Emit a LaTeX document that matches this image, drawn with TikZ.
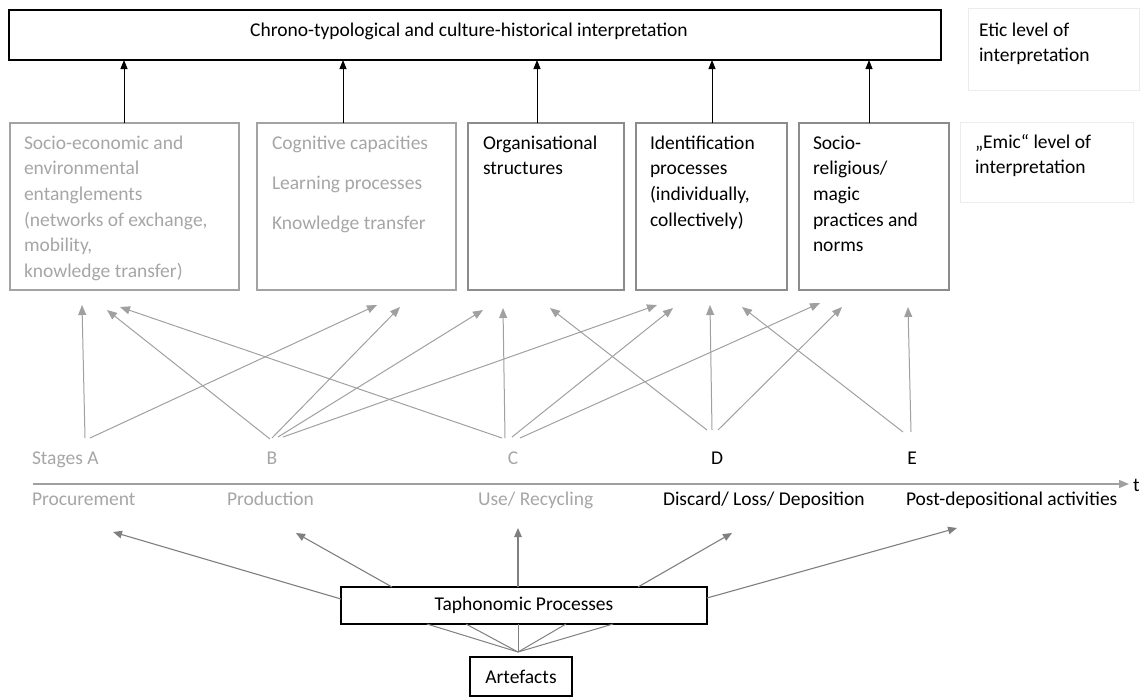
\documentclass[tikz,border=0pt]{standalone}
\usepackage{fontspec}
\setmainfont{Carlito}
\usetikzlibrary{arrows.meta}
\definecolor{txtgray}{HTML}{A6A6A6}
\definecolor{boxgray}{HTML}{A3A3A3}
\definecolor{boxgrayd}{HTML}{8C8C8C}
\definecolor{lngray}{HTML}{A0A0A0}
\definecolor{tapgray}{HTML}{7F7F7F}
\definecolor{faint}{HTML}{ECECEC}
\newcommand{\firstline}{\rule{0pt}{17pt}}
\begin{document}
\begin{tikzpicture}[x=1pt,y=-1pt,
  font=\fontsize{19.5}{25.7}\selectfont,
  frame/.style={draw=black, line width=1.3pt, inner sep=0pt, outer sep=0pt, anchor=north west},
  mbox/.style={draw=boxgray, line width=1.5pt, inner sep=0pt, outer sep=0pt, anchor=north west, minimum height=167pt},
  mboxd/.style={draw=boxgrayd, line width=1.5pt, inner sep=0pt, outer sep=0pt, anchor=north west, minimum height=167pt},
  faintbox/.style={draw=faint, line width=0.8pt, inner sep=0pt, outer sep=0pt, anchor=north west},
  lbl/.style={anchor=base west, inner sep=0pt, outer sep=0pt},
  mlbl/.style={anchor=north west, inner sep=0pt, outer sep=0pt, align=left},
  clbl/.style={anchor=base, inner sep=0pt, outer sep=0pt},
  gtxt/.style={text=txtgray},
  uparrow/.style={draw=black, line width=0.9pt, -{Triangle[length=9pt,width=7pt]}},
  garr/.style={draw=lngray, line width=1pt, -{Triangle[length=10pt,width=8pt]}},
  tarr/.style={draw=tapgray, line width=1.1pt, -{Triangle[length=9pt,width=7.5pt]}},
  fan/.style={draw=tapgray, line width=1pt},
  axisline/.style={draw=lngray, line width=1.3pt, -{Triangle[length=10pt,width=8pt]}}
]
\useasboundingbox (0,0) rectangle (1145,697);

% top level
\node[frame, minimum width=932pt, minimum height=50pt] (top) at (9,10) {};
\node[clbl] (toptxt) at (469,36) {Chrono-typological and culture-historical interpretation};
\node[faintbox, minimum width=171pt, minimum height=82pt] (etic) at (968,8) {};
\node[mlbl] (etictxt) at (979,19) {\firstline Etic level of\\interpretation};
\node[faintbox, minimum width=173pt, minimum height=80pt] (emic) at (960,122) {};
\node[mlbl] (emictxt) at (975,131) {\firstline „Emic“ level of\\interpretation};

% middle boxes
\node[mbox, minimum width=229pt] (b1) at (10,123) {};
\node[mbox, minimum width=199pt] (b2) at (257,123) {};
\node[mboxd, minimum width=156pt] (b3) at (468,123) {};
\node[mboxd, minimum width=151pt] (b4) at (636,123) {};
\node[mboxd, minimum width=150pt] (b5) at (799,123) {};

\node[mlbl, gtxt] (t1) at (24,132) {\firstline Socio-economic and\\environmental\\entanglements\\(networks of exchange,\\mobility,\\knowledge transfer)};
\node[mlbl, gtxt] (t2) at (272,132) {\firstline Cognitive capacities\\[14.3pt]Learning processes\\[14.3pt]Knowledge transfer};
\node[mlbl] (t3) at (483,132) {\firstline Organisational\\structures};
\node[mlbl] (t4) at (650,132) {\firstline Identification\\processes\\(individually,\\collectively)};
\node[mlbl] (t5) at (813,132) {\firstline Socio-\\religious/\\magic\\practices and\\norms};

% arrows up to top box
\coordinate (u1) at (124,123);
\coordinate (u2) at (343,123);
\coordinate (u3) at (537,123);
\coordinate (u4) at (712,123);
\coordinate (u5) at (869,123);
\foreach \u in {u1,u2,u3,u4,u5}
  \draw[uparrow] (\u) -- (\u |- top.south);

% stages
\node[lbl, gtxt] (sA) at (32,464) {Stages A};
\node[clbl, gtxt] (sB) at (272,464) {B};
\node[clbl, gtxt] (sC) at (513,464) {C};
\node[clbl] (sD) at (717,464) {D};
\node[clbl] (sE) at (912,464) {E};

% time axis
\coordinate (ax0) at (33,484);
\coordinate (ax1) at (1129,484);
\draw[axisline] (ax0) -- (ax1);
\node[lbl] (tt) at (1133,491) {t};

% phases
\node[lbl, gtxt] (pA) at (32,505) {Procurement};
\node[lbl, gtxt] (pB) at (227,505) {Production};
\node[lbl, gtxt] (pC) at (478,505) {Use/ Recycling};
\node[lbl] (pD) at (663,505) {Discard/ Loss/ Deposition};
\node[lbl] (pE) at (906,505) {Post-depositional activities};

% stage arrow ends
\coordinate (a1s) at (85,438);  \coordinate (a1e) at (82,305);
\coordinate (a2s) at (90,438);  \coordinate (a2e) at (377,305);
\coordinate (b1s) at (270,439); \coordinate (b1e) at (107,310);
\coordinate (b2s) at (272,438); \coordinate (b2e) at (400,307);
\coordinate (b3s) at (278,437); \coordinate (b3e) at (483,310);
\coordinate (b4s) at (283,437); \coordinate (b4e) at (657,305);
\coordinate (c1s) at (502,438); \coordinate (c1e) at (120,307);
\coordinate (c2s) at (505,438); \coordinate (c2e) at (503,308);
\coordinate (c3s) at (512,437); \coordinate (c3e) at (673,308);
\coordinate (c4s) at (520,438); \coordinate (c4e) at (820,303);
\coordinate (d1s) at (707,430); \coordinate (d1e) at (550,308);
\coordinate (d2s) at (712,430); \coordinate (d2e) at (710,305);
\coordinate (d3s) at (718,430); \coordinate (d3e) at (842,307);
\coordinate (e1s) at (903,432); \coordinate (e1e) at (742,307);
\coordinate (e2s) at (911,432); \coordinate (e2e) at (908,307);
\foreach \k in {a1,a2,b1,b2,b3,b4,c1,c2,c3,c4,d1,d2,d3,e1,e2}
  \draw[garr] (\k s) -- (\k e);

% taphonomic processes and artefacts
\node[frame, minimum width=366pt, minimum height=37pt] (tap) at (341,587) {Taphonomic Processes};
\node[frame, line width=1.2pt, minimum width=102pt, minimum height=39pt] (art) at (470,657) {Artefacts};

\coordinate (tb1) at (341,599); \coordinate (tt1) at (113,532);
\coordinate (tb2) at (392,587); \coordinate (tt2) at (296,533);
\coordinate (tb3) at (518,587); \coordinate (tt3) at (518,528);
\coordinate (tb4) at (638,587); \coordinate (tt4) at (732,533);
\coordinate (tb5) at (707,598); \coordinate (tt5) at (957,528);
\foreach \k in {1,...,5}
  \draw[tarr] (tb\k) -- (tt\k);

\coordinate (apex) at (518,652);
\foreach \x in {427,466,518,566,613}
  \draw[fan] (apex) -- (\x,624);
\end{tikzpicture}
\end{document}
